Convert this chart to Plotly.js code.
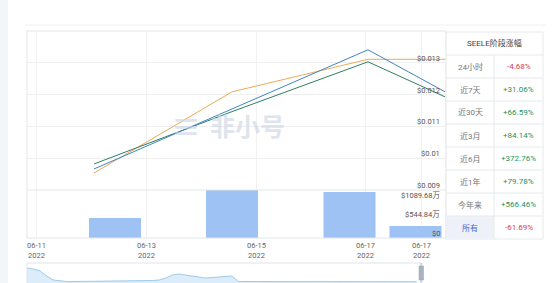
<!DOCTYPE html>
<html><head><meta charset="utf-8">
<script src="https://cdn.plot.ly/plotly-3.0.1.min.js"></script>
<style>html,body{margin:0;padding:0;overflow:hidden;background:#fff}</style>
</head><body><div id="chart" style="width:554px;height:283px"></div>
<script>
// ---- data ----
const lineDates = ['2022-06-12 01:19', '2022-06-14 13:32', '2022-06-17 00:52', '2022-06-18 10:30'];
const blueVals = [0.009661, 0.011551, 0.013409, 0.012087];
const orangeVals = [0.009535, 0.012087, 0.013110, 0.013110];
const greenVals = [0.009819, 0.011465, 0.013031, 0.011929];

const volDates = ['2022-06-12 10:28', '2022-06-14 13:32', '2022-06-16 16:48', '2022-06-17 21:36'];
const volVals = [583, 1400, 1342, 350]; // 万 USD

const xTickVals = ['2022-06-11', '2022-06-13', '2022-06-15', '2022-06-17', '2022-06-18 00:26'];
const xTickLabels = ['06-11<br>2022', '06-13<br>2022', '06-15<br>2022', '06-17<br>2022', '06-17<br>2022'];
const priceTicks = [0.009, 0.010, 0.011, 0.012, 0.013];
const priceTickLabels = ['$0.009', '$0.01', '$0.011', '$0.012', '$0.013'];
const volTickVals = [0, 544.84, 1089.68];
const volTickLabels = ['$0', '$544.84万', '$1089.68万'];

const overviewVals = [15, 14, 12, 7, 3, 2, 1.5, 1.5, 1.6, 1.4, 1.5, 1.5, 1.6, 1.7, 1.8, 1.8, 1.9, 2, 2, 2.5,
  3, 5, 8, 9, 8, 7, 6, 5, 5.5, 6, 6.5, 7, 1.5, 1.5, 1.4, 1.4, 1.5, 1.4, 1.4, 1.3, 1.3, 1.4, 1.3, 1.3, 1.3,
  1.2, 1.3, 1.3, 1.2, 1.2, 1.3, 1.2, 1.2, 1.2, 1.3, 1.2, 1.2, 1.2, 1.2, 1.2];

const tableTitle = 'SEELE阶段涨幅';
const periods = ['24小时', '近7天', '近30天', '近3月', '近6月', '近1年', '今年来', '所有'];
const changes = ['-4.68%', '+31.06%', '+66.59%', '+84.14%', '+372.76%', '+79.78%', '+566.46%', '-61.69%'];

// ---- helpers (pixel -> paper) ----
const W = 554, H = 283;
const px = v => v / W;
const py = v => 1 - v / H;
const FONT = "Roboto, 'Noto Sans CJK SC', sans-serif";
const LBL = {family: FONT, size: 7.5, color: '#555'};

const traces = [
  {x: volDates, y: volVals, type: 'bar', xaxis: 'x', yaxis: 'y2', width: 81687000,
   marker: {color: '#9ec2f3'}, hoverinfo: 'skip'},
  {x: lineDates, y: orangeVals, type: 'scatter', mode: 'lines', xaxis: 'x', yaxis: 'y',
   line: {color: '#eeaa55', width: 1}, name: 'orange'},
  {x: lineDates, y: greenVals, type: 'scatter', mode: 'lines', xaxis: 'x', yaxis: 'y',
   line: {color: '#2f7f5f', width: 1}, name: 'green'},
  {x: lineDates, y: blueVals, type: 'scatter', mode: 'lines', xaxis: 'x', yaxis: 'y',
   line: {color: '#3f86c4', width: 1}, name: 'blue'},
  {x: overviewVals.map((v, i) => i), y: overviewVals, type: 'scatter', mode: 'lines',
   xaxis: 'x3', yaxis: 'y3', fill: 'tozeroy', fillcolor: 'rgba(190,222,245,0.55)',
   line: {color: '#8cbfe3', width: 0.8}, name: 'overview'}
];

const shapes = [
  {type: 'rect', xref: 'paper', yref: 'paper', x0: 0, x1: px(8), y0: 0, y1: 1, fillcolor: '#f3f5f8', line: {width: 0}, layer: 'below'},
  {type: 'line', xref: 'paper', yref: 'paper', x0: px(25), x1: px(546), y0: py(25), y1: py(25), line: {color: '#f0f1f3', width: 1}},
  {type: 'rect', xref: 'paper', yref: 'paper', x0: px(27), x1: px(446), y0: py(238), y1: py(31), line: {color: '#e4e6ea', width: 1}},
  {type: 'line', xref: 'paper', yref: 'paper', x0: px(27), x1: px(446), y0: py(190), y1: py(190), line: {color: '#e4e6ea', width: 1}},
  {type: 'rect', xref: 'paper', yref: 'paper', x0: px(27), x1: px(422), y0: py(290), y1: py(263), line: {color: '#dfe3ea', width: 1}},
  {type: 'line', xref: 'paper', yref: 'paper', x0: px(421), x1: px(421), y0: py(283), y1: py(263), line: {color: '#b8c0cc', width: 1}},
  {type: 'rect', xref: 'paper', yref: 'paper', x0: px(419), x1: px(423.5), y0: py(280), y1: py(266), fillcolor: '#a9b2bf', line: {color: '#9aa3b0', width: 0.5}}
];

const tL = 446, tM = 494, tR = 543, tTop = 32, hdrH = 23, rowH = 23;
const tBot = tTop + hdrH + rowH * periods.length;
shapes.push({type: 'rect', xref: 'paper', yref: 'paper', x0: px(tL), x1: px(tR), y0: py(tBot), y1: py(tTop), fillcolor: '#ffffff', line: {color: '#e6e8eb', width: 1}});
shapes.push({type: 'rect', xref: 'paper', yref: 'paper', x0: px(tL), x1: px(tM), y0: py(tBot), y1: py(tBot - rowH), fillcolor: '#eef2f8', line: {width: 0}});
for (let i = 0; i < periods.length; i++) {
  const yy = tTop + hdrH + rowH * i;
  shapes.push({type: 'line', xref: 'paper', yref: 'paper', x0: px(tL), x1: px(tR), y0: py(yy), y1: py(yy), line: {color: '#e6e8eb', width: 1}});
}
shapes.push({type: 'line', xref: 'paper', yref: 'paper', x0: px(tM), x1: px(tM), y0: py(tTop + hdrH), y1: py(tBot), line: {color: '#e6e8eb', width: 1}});

const annotations = [
  {xref: 'paper', yref: 'paper', x: px((tL + tR) / 2), y: py(tTop + hdrH / 2), text: tableTitle, showarrow: false,
   font: {family: FONT, size: 8, color: '#444'}, xanchor: 'center', yanchor: 'middle'},
  {xref: 'paper', yref: 'paper', x: px(186), y: py(127), text: '<b>≡</b>', showarrow: false,
   font: {family: FONT, size: 30, color: 'rgba(205,214,228,0.65)'}, xanchor: 'center', yanchor: 'middle'},
  {xref: 'paper', yref: 'paper', x: px(247), y: py(127), text: '<b>非小号</b>', showarrow: false,
   font: {family: FONT, size: 25, color: 'rgba(205,214,228,0.65)'}, xanchor: 'center', yanchor: 'middle'}
];
// axis labels drawn through the axes' scales
priceTicks.forEach((v, i) => annotations.push({xref: 'paper', yref: 'y', x: px(442), y: v, text: priceTickLabels[i],
  showarrow: false, font: LBL, xanchor: 'right', yanchor: 'middle', yshift: 4.5}));
volTickVals.forEach((v, i) => annotations.push({xref: 'paper', yref: 'y2', x: px(442), y: v, text: volTickLabels[i],
  showarrow: false, font: LBL, xanchor: 'right', yanchor: 'middle', yshift: 5}));
xTickVals.forEach((v, i) => annotations.push({xref: 'x', yref: 'paper', x: v, y: py(250.5), text: xTickLabels[i],
  showarrow: false, font: {family: FONT, size: 7.5, color: '#666'}, xanchor: 'center', yanchor: 'middle'}));

periods.forEach((p, i) => {
  const yc = tTop + hdrH + rowH * i + rowH / 2;
  const last = i === periods.length - 1;
  annotations.push({xref: 'paper', yref: 'paper', x: px((tL + tM) / 2), y: py(yc), text: p, showarrow: false,
    font: {family: FONT, size: 8, color: last ? '#3a6fd6' : '#777'}, xanchor: 'center', yanchor: 'middle'});
  const neg = changes[i].startsWith('-');
  annotations.push({xref: 'paper', yref: 'paper', x: px((tM + tR) / 2), y: py(yc), text: changes[i], showarrow: false,
    font: {family: FONT, size: 8, color: neg ? '#d8404e' : '#1f8f5a'}, xanchor: 'center', yanchor: 'middle'});
});

const layout = {
  width: W, height: H, margin: {l: 0, r: 0, t: 0, b: 0},
  paper_bgcolor: '#ffffff', plot_bgcolor: 'rgba(0,0,0,0)', showlegend: false,
  font: {family: FONT, size: 7.5, color: '#666'},
  xaxis: {type: 'date', domain: [px(27), px(446)], anchor: 'y2',
    range: ['2022-06-10 20:04', '2022-06-18 10:55'],
    tickmode: 'array', tickvals: xTickVals, showticklabels: false,
    showgrid: true, gridcolor: '#f2f2f2', zeroline: false, showline: false, ticks: ''},
  yaxis: {domain: [py(190), py(31)], anchor: 'x', side: 'right', range: [0.009, 0.014],
    tickmode: 'array', tickvals: priceTicks, showticklabels: false,
    showgrid: true, gridcolor: '#efefef', zeroline: false, showline: false, ticks: ''},
  yaxis2: {domain: [py(238), py(190)], anchor: 'x', side: 'right', range: [0, 1400],
    tickmode: 'array', tickvals: volTickVals, showticklabels: false,
    showgrid: false, zeroline: false, showline: false, ticks: ''},
  xaxis3: {domain: [px(27), px(422)], anchor: 'y3', range: [0, 59.8], visible: false},
  yaxis3: {domain: [0, py(263)], anchor: 'x3', range: [0, 20], visible: false},
  shapes: shapes, annotations: annotations
};

Plotly.newPlot('chart', traces, layout, {displayModeBar: false, staticPlot: true});
</script></body></html>
